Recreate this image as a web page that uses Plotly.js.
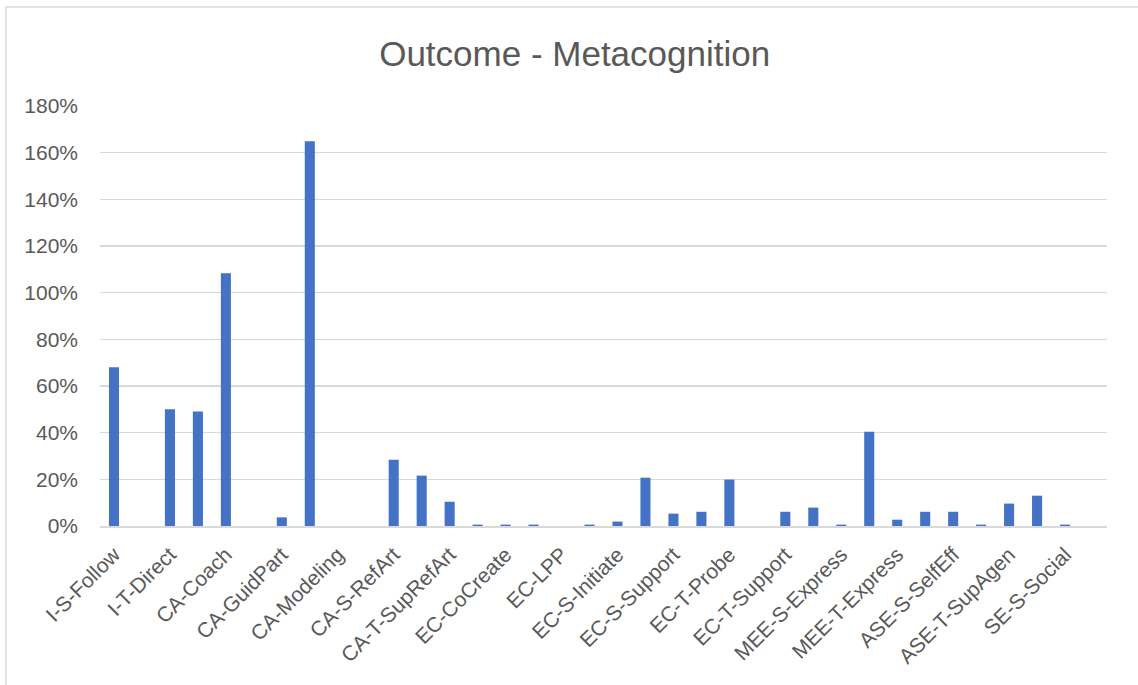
<!DOCTYPE html>
<html>
<head>
<meta charset="utf-8">
<script src="https://cdn.plot.ly/plotly-3.0.1.min.js"></script>
<style>
html,body{margin:0;padding:0;background:#fff;}
#chart{width:1138px;height:685px;}
</style>
</head>
<body>
<div id="chart"></div>
<script>
// Category positions 0..35; only every other category is labelled in the original chart
var categoryIndex = [0,1,2,3,4,5,6,7,8,9,10,11,12,13,14,15,16,17,18,19,20,21,22,23,24,25,26,27,28,29,30,31,32,33,34,35];
var values = [0.68,0,0.50,0.491,1.083,0,0.037,1.649,0,0,0.284,0.216,0.104,0.006,0.006,0.006,0,0.006,0.019,0.207,0.053,0.061,0.199,0,0.061,0.079,0.006,0.404,0.027,0.061,0.061,0.006,0.096,0.13,0.006,0];
var labelPositions = [0,2,4,6,8,10,12,14,16,18,20,22,24,26,28,30,32,34];
var labelTexts = ["I-S-Follow","I-T-Direct","CA-Coach","CA-GuidPart","CA-Modeling","CA-S-RefArt","CA-T-SupRefArt","EC-CoCreate","EC-LPP","EC-S-Initiate","EC-S-Support","EC-T-Probe","EC-T-Support","MEE-S-Express","MEE-T-Express","ASE-S-SelfEff","ASE-T-SupAgen","SE-S-Social"];
var yTicks = [0,0.2,0.4,0.6,0.8,1.0,1.2,1.4,1.6,1.8];

var font = "Liberation Sans, Arial, sans-serif";
var trace = {
  type: "bar",
  x: categoryIndex,
  y: values,
  marker: {color: "#4472C4"},
  hoverinfo: "x+y"
};
var layout = {
  width: 1138, height: 685,
  margin: {l: 100, r: 31, t: 106, b: 159},
  paper_bgcolor: "#fff", plot_bgcolor: "#fff",
  bargap: 0.64,
  showlegend: false,
  title: {text: "Outcome - Metacognition", x: 0.505, xanchor: "center", y: 0.922, yanchor: "middle",
          font: {family: font, size: 35, color: "#595959"}},
  xaxis: {
    range: [-0.5, 35.5],
    tickmode: "array", tickvals: labelPositions, ticktext: labelTexts,
    tickangle: -45,
    tickfont: {family: font, size: 21, color: "#595959"},
    showgrid: false, zeroline: false,
    showline: true, linecolor: "#d9d9d9", linewidth: 2,
    ticks: "", ticklabelstandoff: 6, fixedrange: true
  },
  yaxis: {
    range: [0, 1.8],
    tickmode: "array", tickvals: yTicks, tickformat: ".0%",
    tickfont: {family: font, size: 21, color: "#595959"},
    showgrid: true, gridcolor: "#d9d9d9", gridwidth: 1.5,
    zeroline: false, showline: false, ticks: "",
    ticklabelstandoff: 21, fixedrange: true
  },
  shapes: [{
    type: "rect", xref: "paper", yref: "paper",
    x0: (6 - 100) / 1007, x1: (1145 - 100) / 1007,
    y0: -(690 - 526) / 420, y1: (526 - 7) / 420,
    line: {color: "#d9d9d9", width: 1.5}, fillcolor: "rgba(0,0,0,0)", layer: "below"
  }]
};
Plotly.newPlot("chart", [trace], layout, {displayModeBar: false, staticPlot: true});
</script>
</body>
</html>
